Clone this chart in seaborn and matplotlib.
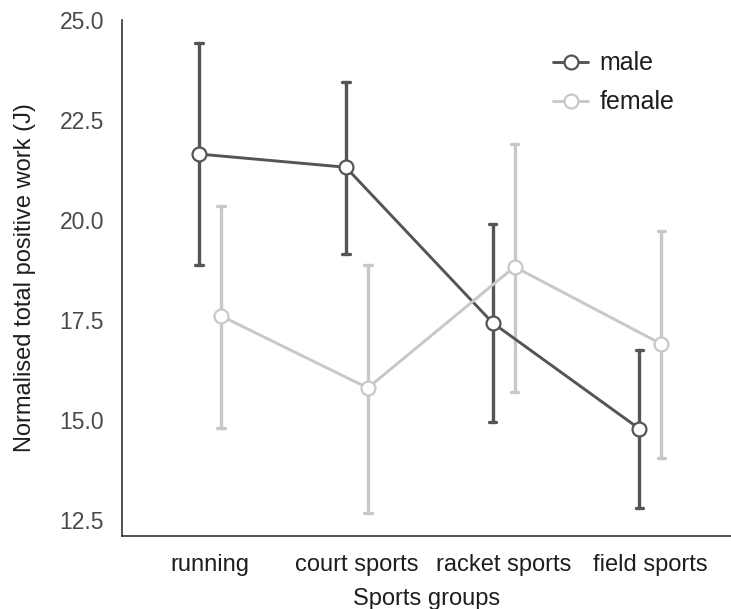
import matplotlib
matplotlib.use("Agg")
import matplotlib.pyplot as plt
import seaborn as sns
import pandas as pd

categories = ["running", "court sports", "racket sports", "field sports"]
sexes = ["male", "female"]
male_mean = [21.65, 21.32, 17.43, 14.78]
male_low = [18.88, 19.15, 14.95, 12.80]
male_high = [24.43, 23.45, 19.90, 16.75]
female_mean = [17.60, 15.80, 18.83, 16.90]
female_low = [14.80, 12.68, 15.70, 14.05]
female_high = [20.35, 18.88, 21.90, 19.73]

rows = []
for sex, lo, mu, hi in [("male", male_low, male_mean, male_high),
                        ("female", female_low, female_mean, female_high)]:
    for c, a, m, b in zip(categories, lo, mu, hi):
        for v in (a, m, b):
            rows.append({"sport": c, "sex": sex, "value": v})
df = pd.DataFrame(rows)

sns.set_style("white")
plt.rcParams["font.family"] = ["Liberation Sans", "DejaVu Sans"]

fig = plt.figure(figsize=(7.31, 6.09), dpi=100)
ax = fig.add_axes([0.167, 0.12, 0.833, 0.847])

palette = {"male": "#555555", "female": "#c8c8c8"}
sns.pointplot(data=df, x="sport", y="value", hue="sex", order=categories,
              hue_order=sexes, palette=palette, estimator="median",
              errorbar=lambda v: (v.min(), v.max()), dodge=0.15,
              capsize=0.05, markers="o", markersize=10, linewidth=2.1,
              err_kws={"linewidth": 2.4}, ax=ax)

for ln in ax.lines:
    if ln.get_marker() not in (None, "None", "", " "):
        ln.set_markerfacecolor("white")
        ln.set_markeredgewidth(1.6)
        ln.set_zorder(5)

ax.set_ylim(12.1, 25.0)
ax.set_xlim(-0.6, 3.55)
ax.set_yticks([12.5, 15.0, 17.5, 20.0, 22.5, 25.0])
ax.set_yticklabels(["12.5", "15.0", "17.5", "20.0", "22.5", "25.0"])

for s in ["top", "right"]:
    ax.spines[s].set_visible(False)
for s in ["left", "bottom"]:
    ax.spines[s].set_color("#333333")
    ax.spines[s].set_linewidth(1.2)

ax.tick_params(axis="both", direction="out", length=5, width=1.2, color="#333333")
ax.tick_params(axis="y", labelsize=16.5, labelcolor="#4a4a4a", pad=8)
ax.tick_params(axis="x", labelsize=17, labelcolor="#1e1e1e", pad=8)
ax.set_xlabel("Sports groups", fontsize=17, color="#1e1e1e", labelpad=9)
ax.set_ylabel("Normalised total positive work (J)", fontsize=17, color="#1e1e1e", labelpad=17)

handles, labels = ax.get_legend_handles_labels()
for h in handles:
    try:
        h.set_markerfacecolor("white")
        h.set_markeredgewidth(1.6)
    except Exception:
        pass
leg = ax.legend(handles, labels, loc="upper left", bbox_to_anchor=(0.671, 0.983),
                frameon=False, fontsize=18, handlelength=1.4, handletextpad=0.45,
                labelspacing=0.6)
for t in leg.get_texts():
    t.set_color("#1e1e1e")

fig.savefig("out.png", dpi=100)
